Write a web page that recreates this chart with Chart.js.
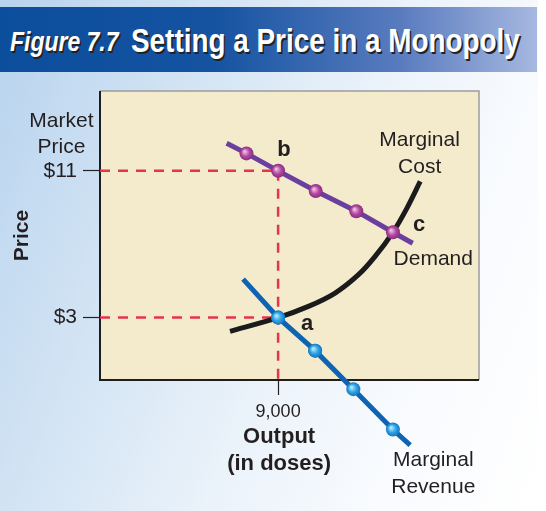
<!DOCTYPE html>
<html>
<head>
<meta charset="utf-8">
<script src="https://cdn.jsdelivr.net/npm/chart.js@4/dist/chart.umd.min.js"></script>
<style>
  html, body { margin: 0; padding: 0; width: 546px; height: 511px; overflow: hidden; background: #fff; }
  #panel {
    position: absolute; left: 0; top: 0; width: 538px; height: 511px;
    background: linear-gradient(112deg, #b7d3ee 0%, #d3e4f4 30%, #eaf2fa 55%, #f9fbfe 78%, #ffffff 100%);
  }
  #header {
    position: absolute; left: 0; top: 7px; width: 537px; height: 65px;
    background: linear-gradient(90deg, #0b4e9c 0%, #1553a1 40%, #5a7cbf 75%, #a7b8e0 100%);
    color: #fff; white-space: nowrap;
  }
  #header span {
    position: absolute; display: inline-block; transform: scaleX(0.82); transform-origin: 0 0;
    text-shadow: 2px 2px 0 #222; font-weight: bold; font-family: 'Liberation Sans', Arial, sans-serif;
  }
  #fig { left: 10px; top: 19px; font-style: italic; font-size: 28px; }
  #ttl { left: 131px; top: 14px; font-size: 34px; }
  #wrap { position: absolute; left: 0; top: 0; }
</style>
</head>
<body>
<div id="panel"></div>
<div id="header"><span id="fig">Figure 7.7</span><span id="ttl">Setting a Price in a Monopoly</span></div>
<div id="wrap"><canvas id="chart" width="546" height="511"></canvas></div>
<script>
// key values
const marketPrice = 11;
const mcPrice = 3;
const outputQty = 9000;

// Demand curve
const demandX = [6400, 7400, 9000, 10900, 12950, 14800, 15800];
const demandY = [12.5, 11.95, 11, 9.9, 8.8, 7.65, 7.05];
const demandDots = [false, true, true, true, true, true, false];

// Marginal revenue curve
const mrX = [7230, 9000, 10870, 12800, 14800, 15670];
const mrY = [5.1, 3, 1.2, -0.9, -3.1, -3.95];
const mrDots = [false, true, true, true, true, false];

// Marginal cost curve
const mcX = [6570, 9000, 10530, 11880, 13060, 13900, 14800, 15510, 16180];
const mcY = [2.25, 3, 3.61, 4.34, 5.34, 6.34, 7.65, 8.97, 10.42];

const yTicks = [3, 11];
const yTickLabels = ['$3', '$11'];
const xTicks = [9000];
const xTickLabels = ['9,000'];

// text notes placed in data units
const notes = [
  { text: ['Market', 'Price'], x: -1950, y: 13.72, bold: false },
  { text: ['Marginal', 'Cost'], x: 16150, y: 12.66, bold: false },
  { text: ['b'], x: 9300, y: 12.14, bold: true },
  { text: ['c'], x: 16130, y: 8.06, bold: true },
  { text: ['Demand'], x: 16840, y: 6.16, bold: false },
  { text: ['a'], x: 10470, y: 2.67, bold: true },
  { text: ['Output', '(in doses)'], x: 9050, y: -3.53, bold: true },
  { text: ['Marginal', 'Revenue'], x: 16840, y: -4.78, bold: false }
];

const toPts = (xs, ys) => xs.map((x, i) => ({ x: x, y: ys[i] }));

function ballColor(c0, c1, c2) {
  return function (ctx) {
    const chart = ctx.chart;
    if (!ctx.parsed || !chart.scales.x || !chart.scales.y) return c1;
    const px = chart.scales.x.getPixelForValue(ctx.parsed.x);
    const py = chart.scales.y.getPixelForValue(ctx.parsed.y);
    if (!isFinite(px) || !isFinite(py)) return c1;
    const g = chart.ctx.createRadialGradient(px - 2, py - 2, 0.5, px, py, 7);
    g.addColorStop(0, c0);
    g.addColorStop(0.55, c1);
    g.addColorStop(1, c2);
    return g;
  };
}

const plotBox = {
  id: 'plotBox',
  beforeDatasetsDraw(chart) {
    const { ctx, chartArea: a } = chart;
    ctx.save();
    ctx.fillStyle = '#f3ebcc';
    ctx.fillRect(a.left, a.top, a.right - a.left, a.bottom - a.top);
    ctx.strokeStyle = '#9c9c9c';
    ctx.lineWidth = 1.5;
    ctx.beginPath();
    ctx.moveTo(a.left, a.top);
    ctx.lineTo(a.right, a.top);
    ctx.lineTo(a.right, a.bottom);
    ctx.stroke();
    ctx.strokeStyle = '#1e1e1e';
    ctx.lineWidth = 2;
    ctx.beginPath();
    ctx.moveTo(a.left, a.top);
    ctx.lineTo(a.left, a.bottom);
    ctx.lineTo(a.right, a.bottom);
    ctx.stroke();
    ctx.restore();
  },
  afterDatasetsDraw(chart) {
    // points that sit below the plot box are skipped by Chart.js, draw them here
    const whole = { left: 0, top: 0, right: chart.width, bottom: chart.height };
    chart.data.datasets.forEach((ds, i) => {
      if (ds.clip === false) {
        chart.getDatasetMeta(i).data.forEach(pt => pt.draw(chart.ctx, whole));
      }
    });
  },
  afterDraw(chart) {
    const { ctx, scales } = chart;
    ctx.save();
    ctx.fillStyle = '#231f20';
    ctx.textAlign = 'center';
    ctx.textBaseline = 'middle';
    notes.forEach(n => {
      ctx.font = (n.bold ? 'bold 22px ' : '21px ') + '"Liberation Sans", Arial, sans-serif';
      const px = scales.x.getPixelForValue(n.x);
      const py = scales.y.getPixelForValue(n.y);
      n.text.forEach((t, i) => ctx.fillText(t, px, py + i * 26.5));
    });
    ctx.restore();
  }
};

const font = '"Liberation Sans", Arial, sans-serif';

new Chart(document.getElementById('chart'), {
  type: 'scatter',
  data: {
    datasets: [
      {
        label: 'Demand',
        data: toPts(demandX, demandY),
        showLine: true,
        borderColor: '#6b3f9f',
        borderWidth: 5,
        pointRadius: demandDots.map(d => d ? 7 : 0),
        pointBackgroundColor: ballColor('#f1bfea', '#b3489f', '#85307f'),
        pointBorderWidth: 0,
        order: 1
      },
      {
        label: 'Marginal Revenue',
        data: toPts(mrX, mrY),
        showLine: true,
        clip: false,
        borderColor: '#0e63b3',
        borderWidth: 5,
        pointRadius: mrDots.map(d => d ? 7 : 0),
        pointBackgroundColor: ballColor('#b6ecff', '#2fa2e6', '#1276c0'),
        pointBorderWidth: 0,
        order: 1
      },
      {
        label: 'Marginal Cost',
        data: toPts(mcX, mcY),
        showLine: true,
        borderColor: '#1b1b1b',
        borderWidth: 5,
        tension: 0.3,
        pointRadius: 0,
        order: 2
      },
      {
        label: 'price line',
        data: [{ x: 0, y: marketPrice }, { x: outputQty, y: marketPrice }],
        showLine: true, borderColor: '#e8334f', borderWidth: 2.5, borderDash: [10, 8],
        pointRadius: 0, order: 3
      },
      {
        label: 'output line',
        data: [{ x: outputQty, y: marketPrice }, { x: outputQty, y: -0.4 }],
        showLine: true, borderColor: '#e8334f', borderWidth: 2.5, borderDash: [10, 8],
        pointRadius: 0, order: 3
      },
      {
        label: 'cost line',
        data: [{ x: 0, y: mcPrice }, { x: outputQty, y: mcPrice }],
        showLine: true, borderColor: '#e8334f', borderWidth: 2.5, borderDash: [10, 8],
        pointRadius: 0, order: 3
      }
    ]
  },
  options: {
    responsive: false,
    animation: false,
    events: [],
    layout: { padding: { top: 91, right: 67, left: 0, bottom: 0 } },
    plugins: {
      legend: { display: false },
      tooltip: { enabled: false }
    },
    scales: {
      x: {
        type: 'linear',
        min: 0,
        max: 19150,
        afterFit: s => { s.height = 131; },
        afterBuildTicks: s => { s.ticks = xTicks.map(v => ({ value: v })); },
        border: { display: false },
        grid: { drawOnChartArea: false, drawTicks: true, tickLength: 15, tickColor: '#222', tickWidth: 1.2 },
        ticks: {
          padding: 6,
          color: '#231f20',
          font: { family: font, size: 18 },
          maxRotation: 0,
          callback: v => xTickLabels[xTicks.indexOf(v)]
        }
      },
      y: {
        min: -0.4,
        max: 15.35,
        afterFit: s => { s.width = 100; },
        afterBuildTicks: s => { s.ticks = yTicks.map(v => ({ value: v })); },
        border: { display: false },
        grid: { drawOnChartArea: false, drawTicks: true, tickLength: 17, tickColor: '#222', tickWidth: 1.2 },
        ticks: {
          padding: 6,
          color: '#231f20',
          font: { family: font, size: 21 },
          callback: v => yTickLabels[yTicks.indexOf(v)]
        },
        title: {
          display: true,
          text: 'Price',
          color: '#231f20',
          font: { family: font, size: 21, weight: 'bold' },
          padding: { top: 10, bottom: 0 }
        }
      }
    }
  },
  plugins: [plotBox]
});
</script>
</body>
</html>
